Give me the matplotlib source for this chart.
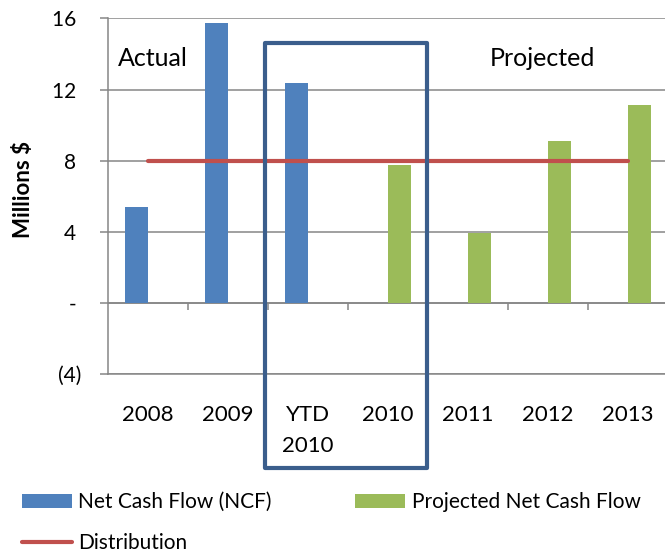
import numpy as np
import matplotlib.pyplot as plt
from matplotlib.patches import Rectangle

plt.rcParams['font.family'] = ['Lato', 'DejaVu Sans']

categories = ['2008', '2009', 'YTD\n2010', '2010', '2011', '2012', '2013']
ncf = [5.4, 15.75, 12.35, np.nan, np.nan, np.nan, np.nan]
projected = [np.nan, np.nan, np.nan, 7.75, 3.95, 9.1, 11.15]
distribution = [8, 8, 8, 8, 8, 8, 8]
yticks = [-4, 0, 4, 8, 12, 16]
ytick_labels = ['(4)', '- ', '4 ', '8 ', '12 ', '16 ']

blue = '#4F81BD'
green = '#9BBB59'
red = '#C0504D'
grid = '#868686'

fig = plt.figure(figsize=(6.65, 5.54), dpi=100)
ax = fig.add_axes([108 / 665, (554 - 374.3) / 554, 560 / 665, 356 / 554])

x = np.arange(len(categories))
w = 0.2875

ax.yaxis.grid(True, color=grid, linewidth=1.1)
ax.set_axisbelow(True)
b1 = ax.bar(x - w / 2, ncf, width=w, color=blue, label='Net Cash Flow (NCF)', zorder=2)
b2 = ax.bar(x + w / 2, projected, width=w, color=green, label='Projected Net Cash Flow', zorder=2)
l1, = ax.plot(x, distribution, color=red, linewidth=3, solid_capstyle='round',
              label='Distribution', zorder=3)

# zero axis line with category tick marks
ax.axhline(0, color=grid, linewidth=1.1, zorder=1)
ax.vlines(np.arange(1, len(categories)) - 0.5, -0.4, 0, color=grid, linewidth=1.1, zorder=1)

ax.set_xlim(-0.5, len(categories) - 0.5)
ax.set_ylim(-4, 16)
ax.set_yticks(yticks)
ax.set_yticklabels(ytick_labels, fontsize=15)
ax.set_xticks(x)
ax.set_xticklabels(categories, fontsize=16, linespacing=1.7)
ax.tick_params(axis='x', length=0, pad=22)
ax.tick_params(axis='y', length=6, color=grid, width=1.1, pad=13)

for s in ['top', 'right']:
    ax.spines[s].set_visible(False)
ax.spines['left'].set_color(grid)
ax.spines['left'].set_linewidth(1.1)
ax.spines['bottom'].set_color(grid)
ax.spines['bottom'].set_linewidth(1.1)

ax.set_ylabel('Millions $', fontsize=16, fontweight='bold')
ax.yaxis.set_label_coords(-0.133, 0.52)

fig.text(118 / 665, 1 - 66 / 554, 'Actual', fontsize=18, ha='left', va='baseline')
fig.text(490 / 665, 1 - 66 / 554, 'Projected', fontsize=18, ha='left', va='baseline')

# box around the 2010 columns
box = Rectangle((264.5 / 665, 1 - 468.3 / 554), (426.7 - 264.5) / 665, (468.3 - 43.3) / 554,
                transform=fig.transFigure, fill=False, edgecolor='#3B5E8C', linewidth=3,
                joinstyle='round', zorder=5)
fig.add_artist(box)

fig.legend([b1, l1, b2], ['Net Cash Flow (NCF)', 'Distribution', 'Projected Net Cash Flow'],
           ncol=2, loc='upper left', bbox_to_anchor=(16 / 665, 1 - 486 / 554), frameon=False,
           fontsize=15, handlelength=2.4, handleheight=0.65, handletextpad=0.3,
           columnspacing=4.0, labelspacing=1.0, borderaxespad=0, borderpad=0.3)

fig.savefig('out.png', dpi=100)
